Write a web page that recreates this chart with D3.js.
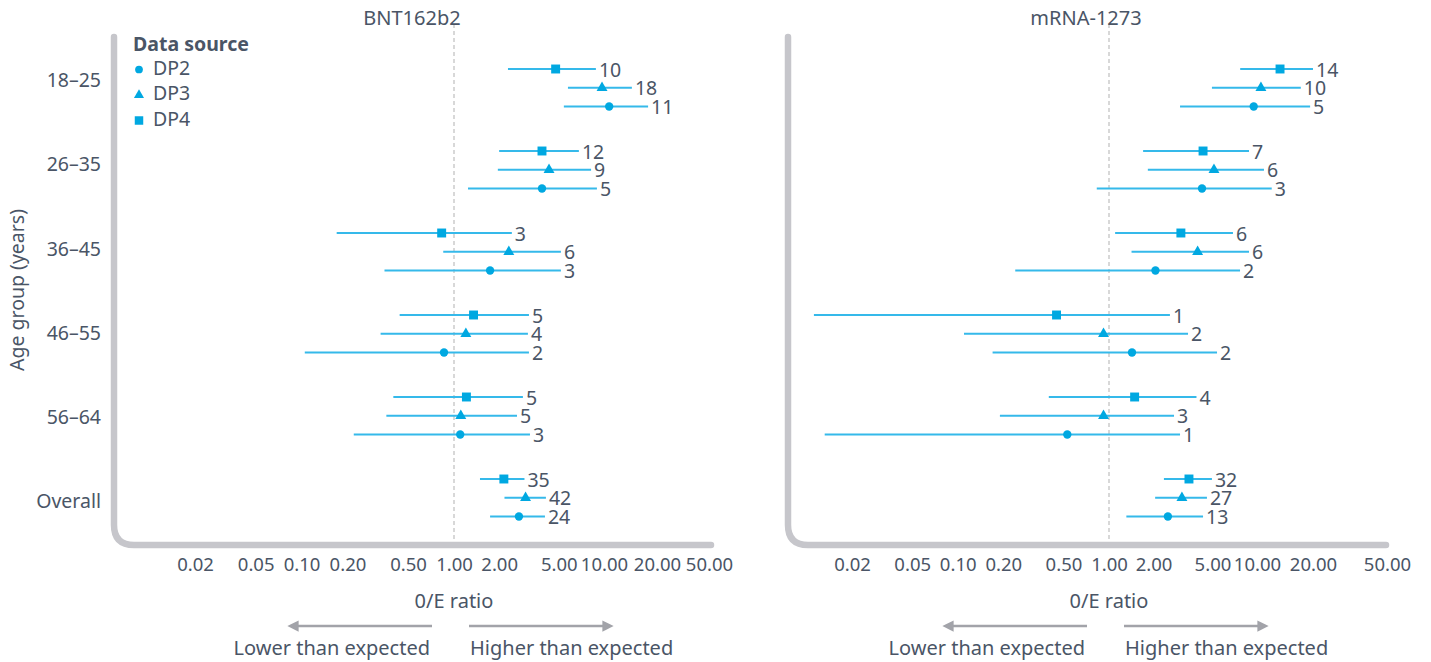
<!DOCTYPE html>
<html>
<head>
<meta charset="utf-8">
<script src="https://cdn.jsdelivr.net/npm/d3@7"></script>
<style>
  body { margin: 0; background: #fff; }
  svg text { font-family: "Noto Sans", "Open Sans", sans-serif; fill: #4a5566; }
</style>
</head>
<body>
<svg id="chart" width="1431" height="662"></svg>
<script>
// categories
const ageGroups = ['18–25', '26–35', '36–45', '46–55', '56–64', 'Overall'];
const rowOrder = ['DP4', 'DP3', 'DP2'];      // top to bottom inside a group
const legendOrder = ['DP2', 'DP3', 'DP4'];
const xTicks = [0.02, 0.05, 0.1, 0.2, 0.5, 1, 2, 5, 10, 20, 50];

// each row: [O/E estimate, lower CI, upper CI, n cases]
const bntDP4 = [[4.76, 2.29, 8.83, 10], [3.86, 2.0, 6.8, 12], [0.83, 0.17, 2.43, 3], [1.35, 0.44, 3.16, 5], [1.21, 0.40, 2.88, 5], [2.15, 1.49, 2.95, 35]];
const bntDP3 = [[9.7, 5.75, 14.4, 18], [4.3, 1.96, 8.2, 9], [2.32, 0.85, 5.16, 6], [1.2, 0.33, 3.11, 4], [1.11, 0.36, 2.63, 5], [3.0, 2.17, 4.1, 42]];
const bntDP2 = [[10.7, 5.4, 17.8, 11], [3.86, 1.24, 8.97, 5], [1.74, 0.35, 5.16, 3], [0.86, 0.105, 3.16, 2], [1.10, 0.22, 3.21, 3], [2.71, 1.74, 4.04, 24]];

const mrnaDP4 = [[13.3, 7.7, 20.0, 14], [4.32, 1.70, 8.83, 7], [3.06, 1.10, 6.88, 6], [0.45, 0.0112, 2.58, 1], [1.49, 0.40, 3.9, 4], [3.47, 2.35, 4.96, 32]];
const mrnaDP3 = [[10.5, 4.96, 17.2, 10], [5.12, 1.83, 10.9, 6], [3.97, 1.42, 8.83, 6], [0.92, 0.11, 3.42, 2], [0.92, 0.19, 2.75, 3], [3.11, 2.05, 4.59, 27]];
const mrnaDP2 = [[9.5, 3.02, 19.3, 5], [4.25, 0.83, 12.0, 3], [2.06, 0.24, 7.68, 2], [1.43, 0.17, 5.37, 2], [0.53, 0.0132, 3.02, 1], [2.50, 1.31, 4.32, 13]];

const blue = '#00a8e1';
const lineBlue = '#35b9ea';
const frameGrey = '#c6c6cb';
const arrowGrey = '#a2a3a9';

const svg = d3.select('#chart');

const symbols = { DP2: d3.symbolCircle, DP3: d3.symbolTriangle, DP4: d3.symbolSquare };
const symSize = { DP2: 55, DP3: 52, DP4: 80 };

// y positions
const groupY = d3.scalePoint().domain(ageGroups).range([69, 479]);
const rowY = d3.scalePoint().domain(rowOrder).range([0, 37.5]);
const labelY = d3.scalePoint().domain(ageGroups).range([82, 503]);

svg.append('defs').append('marker')
  .attr('id', 'arrow')
  .attr('viewBox', '0 0 10 10')
  .attr('refX', 5).attr('refY', 5)
  .attr('markerWidth', 4.5).attr('markerHeight', 4.5)
  .attr('orient', 'auto-start-reverse')
  .append('path')
  .attr('d', 'M0,0 L10,5 L0,10 z')
  .attr('fill', arrowGrey);

const panels = [
  { title: 'BNT162b2', titleX: 412, series: { DP4: bntDP4, DP3: bntDP3, DP2: bntDP2 },
    x: d3.scaleLog().domain([0.02, 1, 10, 20, 50]).range([195, 454, 604, 657, 709]),
    left: 114, right: 711 },
  { title: 'mRNA-1273', titleX: 1086, series: { DP4: mrnaDP4, DP3: mrnaDP3, DP2: mrnaDP2 },
    x: d3.scaleLog().domain([0.02, 1, 10, 50]).range([852, 1109, 1257, 1387]),
    left: 788, right: 1386 }
];

const frameTop = 37, frameBottom = 545, r = 20;

panels.forEach(p => {
  const g = svg.append('g');
  const x = p.x;

  // rounded L frame
  g.append('path')
    .attr('d', `M${p.left},${frameTop} L${p.left},${frameBottom - r} Q${p.left},${frameBottom} ${p.left + r},${frameBottom} L${p.right},${frameBottom}`)
    .attr('fill', 'none')
    .attr('stroke', frameGrey)
    .attr('stroke-width', 6.5)
    .attr('stroke-linecap', 'round');

  // reference line at 1
  g.append('line')
    .attr('x1', x(1)).attr('x2', x(1))
    .attr('y1', 24).attr('y2', frameBottom - 4)
    .attr('stroke', '#c4c4c4')
    .attr('stroke-width', 1.3)
    .attr('stroke-dasharray', '4,3');

  // title
  g.append('text')
    .attr('x', p.titleX)
    .attr('y', 20)
    .attr('text-anchor', 'middle')
    .attr('dominant-baseline', 'middle')
    .style('font-size', '20px')
    .text(p.title);

  // x axis
  const ax = g.append('g')
    .attr('transform', `translate(0,${frameBottom})`)
    .call(d3.axisBottom(x).tickValues(xTicks).tickFormat(d3.format('.2f')).tickSize(0).tickPadding(13));
  ax.select('.domain').remove();
  ax.selectAll('text')
    .style('font-size', '18.5px')
    .style('font-family', '"Noto Sans", sans-serif')
    .attr('fill', '#4a5566');

  g.append('text')
    .attr('x', x(1))
    .attr('y', 603)
    .attr('text-anchor', 'middle')
    .attr('dominant-baseline', 'middle')
    .style('font-size', '20px')
    .text('0/E ratio');

  // direction arrows
  const ay = 626;
  g.append('line')
    .attr('x1', x(1) - 22).attr('x2', x(1) - 161)
    .attr('y1', ay).attr('y2', ay)
    .attr('stroke', arrowGrey).attr('stroke-width', 2.5)
    .attr('marker-end', 'url(#arrow)');
  g.append('line')
    .attr('x1', x(1) + 15).attr('x2', x(1) + 154)
    .attr('y1', ay).attr('y2', ay)
    .attr('stroke', arrowGrey).attr('stroke-width', 2.5)
    .attr('marker-end', 'url(#arrow)');
  g.append('text')
    .attr('x', x(1) - 24).attr('y', 650)
    .attr('text-anchor', 'end')
    .attr('dominant-baseline', 'middle')
    .style('font-size', '20px')
    .text('Lower than expected');
  g.append('text')
    .attr('x', x(1) + 16).attr('y', 650)
    .attr('text-anchor', 'start')
    .attr('dominant-baseline', 'middle')
    .style('font-size', '20px')
    .text('Higher than expected');

  // rows
  rowOrder.forEach(src => {
    const rows = p.series[src].map((d, i) => ({
      group: ageGroups[i], est: d[0], lo: d[1], hi: d[2], n: d[3]
    }));
    const yOf = d => groupY(d.group) + rowY(src);

    g.selectAll(null).data(rows).enter().append('line')
      .attr('x1', d => x(d.lo)).attr('x2', d => x(d.hi))
      .attr('y1', yOf).attr('y2', yOf)
      .attr('stroke', lineBlue).attr('stroke-width', 2);

    g.selectAll(null).data(rows).enter().append('path')
      .attr('d', d3.symbol().type(symbols[src]).size(symSize[src]))
      .attr('transform', d => `translate(${x(d.est)},${yOf(d)})`)
      .attr('fill', blue);

    g.selectAll(null).data(rows).enter().append('text')
      .attr('x', d => x(d.hi) + 3)
      .attr('y', yOf)
      .attr('dominant-baseline', 'central')
      .style('font-size', '19.5px')
      .text(d => d.n);
  });
});

// y labels (left panel only)
svg.selectAll('.ylab').data(ageGroups).enter().append('text')
  .attr('class', 'ylab')
  .attr('x', 101)
  .attr('y', d => labelY(d))
  .attr('text-anchor', 'end')
  .attr('dominant-baseline', 'middle')
  .style('font-size', '19.5px')
  .text(d => d);

svg.append('text')
  .attr('transform', 'translate(19,290) rotate(-90)')
  .attr('text-anchor', 'middle')
  .attr('dominant-baseline', 'middle')
  .style('font-size', '19.5px')
  .text('Age group (years)');

// legend
const lg = svg.append('g').attr('transform', 'translate(133,46)');
lg.append('text')
  .attr('x', 0).attr('y', 0)
  .attr('dominant-baseline', 'middle')
  .style('font-size', '19.5px')
  .style('font-weight', 'bold')
  .text('Data source');
legendOrder.forEach((src, i) => {
  const yy = 23.5 + i * 25.5;
  lg.append('path')
    .attr('d', d3.symbol().type(symbols[src]).size(symSize[src] - 8))
    .attr('transform', `translate(6,${yy})`)
    .attr('fill', blue);
  lg.append('text')
    .attr('x', 20).attr('y', yy)
    .attr('dominant-baseline', 'middle')
    .style('font-size', '19.5px')
    .text(src);
});
</script>
</body>
</html>
